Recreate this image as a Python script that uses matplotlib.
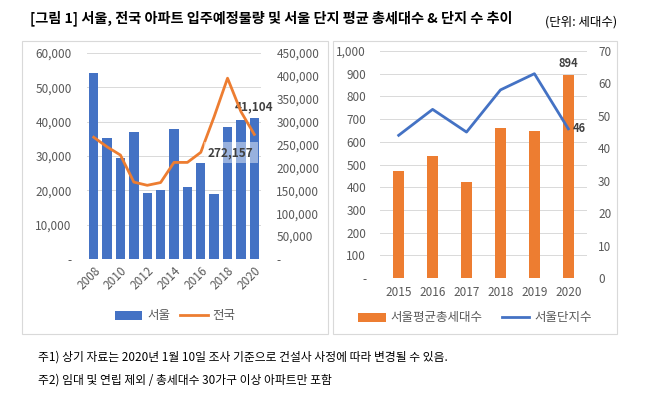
import matplotlib.pyplot as plt
from matplotlib.patches import Rectangle
from matplotlib.ticker import FuncFormatter, MultipleLocator

plt.rcParams["font.family"] = ["Noto Sans CJK KR", "DejaVu Sans"]

C_BLUE = "#4472C4"
C_ORANGE = "#ED7D31"
C_TICK = "#595959"
C_GRID = "#D9D9D9"

# left panel: 2008-2020
years_l = list(range(2008, 2021))
seoul = [54200, 35300, 29400, 37000, 19200, 20100, 37900, 21000, 28000, 19000, 38500, 40500, 41104]
national = [266000, 245000, 227000, 168000, 161000, 167000, 211000, 211000, 233000, 311000, 395000, 322000, 272157]

# right panel: 2015-2020
years_r = list(range(2015, 2021))
avg_units = [472, 537, 422, 662, 646, 894]
complexes = [44, 52, 45, 58, 63, 46]

title = "[그림 1] 서울, 전국 아파트 입주예정물량 및 서울 단지 평균 총세대수 & 단지 수 추이"
unit = "(단위: 세대수)"
notes = [
    "주1) 상기 자료는 2020년 1월 10일 조사 기준으로 건설사 사정에 따라 변경될 수 있음.",
    "주2) 임대 및 연립 제외 / 총세대수 30가구 이상 아파트만 포함",
]


def comma_dash(v, _pos):
    return "-" if abs(v) < 1e-9 else f"{v:,.0f}"


def style_axes(ax):
    for s in ax.spines.values():
        s.set_visible(False)
    ax.tick_params(length=0, labelsize=8.5, colors=C_TICK)


fig = plt.figure(figsize=(6.47, 3.96), dpi=100)
W, H = 647, 396

# panel frames
for x0, x1 in [(22, 328), (333, 617)]:
    fig.add_artist(Rectangle((x0 / W, 1 - 334 / H), (x1 - x0) / W, (334 - 41) / H,
                             transform=fig.transFigure, fill=False, edgecolor="#D9D9D9", lw=0.8))

fig.text(30 / W, 1 - 18 / H, title, fontsize=10.2, fontweight="bold", va="center", ha="left")
fig.text(617 / W, 1 - 22 / H, unit, fontsize=9, va="center", ha="right")
for i, n in enumerate(notes):
    fig.text(38 / W, 1 - (357 + 23 * i) / H, n, fontsize=8.5, va="center", ha="left")

# ---- left chart
ax = fig.add_axes([87 / W, 1 - 259 / H, 174 / W, 206 / H])
ax.bar(years_l, seoul, width=0.7, color=C_BLUE, zorder=2, label="서울")
ax.set_xlim(2007.5, 2020.5)
ax.set_ylim(0, 60000)
ax.yaxis.set_major_locator(MultipleLocator(10000))
ax.yaxis.set_major_formatter(FuncFormatter(comma_dash))
ax.grid(axis="y", color=C_GRID, lw=0.7, zorder=0)
ax.set_xticks(years_l[::2])
ax.set_xticklabels([str(y) for y in years_l[::2]], rotation=45, ha="right", rotation_mode="anchor")
style_axes(ax)
ax.tick_params(axis="x", pad=4)
ax.tick_params(axis="y", pad=11)

ax2 = ax.twinx()
ax2.plot(years_l, national, color=C_ORANGE, lw=2, zorder=3, label="전국")
ax2.set_ylim(0, 450000)
ax2.yaxis.set_major_locator(MultipleLocator(50000))
ax2.yaxis.set_major_formatter(FuncFormatter(comma_dash))
style_axes(ax2)
ax2.tick_params(axis="y", pad=11)

ax.annotate(f"{seoul[-1]:,}", (years_l[-1], seoul[-1]), xytext=(0, 3), textcoords="offset points",
            ha="center", va="bottom", fontsize=8.5, fontweight="bold", color="#404040", zorder=5)
ax2.annotate(f"{national[-1]:,}", (years_l[-1], national[-1]), xytext=(-17, -13), textcoords="offset points",
             ha="center", va="center", fontsize=8.5, fontweight="bold", color="#404040",
             bbox=dict(boxstyle="square,pad=0.35", fc="white", ec="none", alpha=0.45), zorder=5)

h1, l1 = ax.get_legend_handles_labels()
h2, l2 = ax2.get_legend_handles_labels()
fig.legend(h1 + h2, l1 + l2, loc="center", bbox_to_anchor=(175 / W, 1 - 316 / H), ncol=2,
           frameon=False, fontsize=9, handlelength=2.2, columnspacing=0.8, handletextpad=0.4,
           labelcolor=C_TICK)

# ---- right chart
bx = fig.add_axes([380 / W, 1 - 278 / H, 207 / W, 227 / H])
bx.bar(years_r, avg_units, width=0.32, color=C_ORANGE, zorder=2, label="서울평균총세대수")
bx.set_xlim(2014.45, 2020.55)
bx.set_ylim(0, 1000)
bx.yaxis.set_major_locator(MultipleLocator(100))
bx.yaxis.set_major_formatter(FuncFormatter(comma_dash))
bx.grid(axis="y", color=C_GRID, lw=0.7, zorder=0)
bx.set_xticks(years_r)
style_axes(bx)
bx.tick_params(axis="x", pad=6)
bx.tick_params(axis="y", pad=10)

bx2 = bx.twinx()
bx2.plot(years_r, complexes, color=C_BLUE, lw=2, zorder=3, label="서울단지수")
bx2.set_ylim(0, 70)
bx2.yaxis.set_major_locator(MultipleLocator(10))
style_axes(bx2)
bx2.tick_params(axis="y", pad=8)

bx.annotate(str(avg_units[-1]), (years_r[-1], avg_units[-1]), xytext=(0, 4), textcoords="offset points",
            ha="center", va="bottom", fontsize=8, fontweight="bold", color="#404040")
bx2.annotate(str(complexes[-1]), (years_r[-1], complexes[-1]), xytext=(3, 0), textcoords="offset points",
             ha="left", va="center", fontsize=8, fontweight="bold", color="#404040")

h1, l1 = bx.get_legend_handles_labels()
h2, l2 = bx2.get_legend_handles_labels()
fig.legend(h1 + h2, l1 + l2, loc="center", bbox_to_anchor=(475 / W, 1 - 318 / H), ncol=2,
           frameon=False, fontsize=9, handlelength=2.2, columnspacing=1.5, handletextpad=0.4,
           labelcolor=C_TICK)

fig.savefig("out.png", dpi=100, facecolor="white")
